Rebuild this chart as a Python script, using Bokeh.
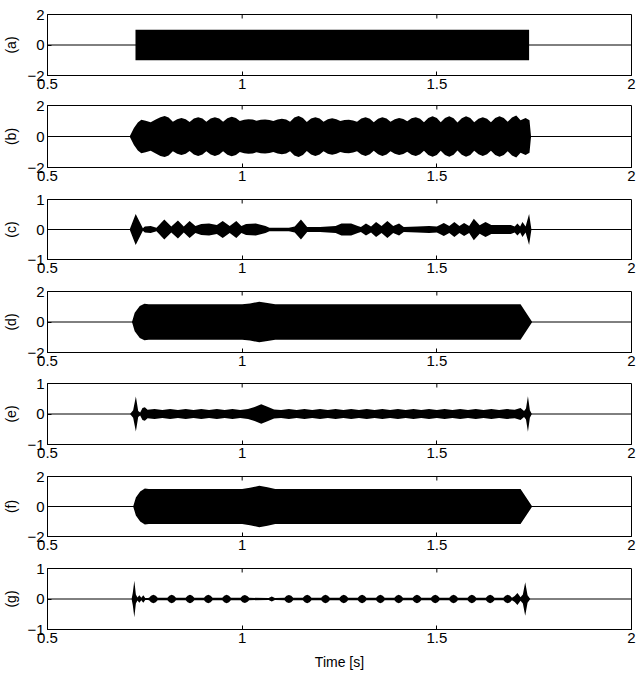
import numpy as np
from bokeh.plotting import figure
from bokeh.models import FixedTicker, CustomJSTickFormatter, Span, Range1d
from bokeh.layouts import column
from bokeh.embed import file_html
from bokeh.resources import INLINE

# ---------------- data (envelopes) ----------------
x_ticks = [0.5, 1.0, 1.5, 2.0]
panel_labels = ["(a)", "(b)", "(c)", "(d)", "(e)", "(f)", "(g)"]
y_limits = [2, 2, 1, 2, 1, 2, 1]
x_title = "Time [s]"

t_a = [0.5, 0.726, 0.726, 1.737, 1.737, 2.0]
env_a = [0, 0, 1.0, 1.0, 0, 0]

t_b = [0.5, 0.711, 0.722, 0.732, 0.741, 0.752, 0.765, 0.778, 0.790, 0.801, 0.811, 0.822,
       0.833, 0.844, 0.855, 0.865, 0.876, 0.887, 0.898, 0.908, 0.919, 0.930, 0.941, 0.951,
       0.962, 0.973, 0.984, 0.994, 1.005, 1.016, 1.027, 1.037, 1.048, 1.059, 1.070, 1.080,
       1.091, 1.102, 1.113, 1.123, 1.134, 1.145, 1.156, 1.166, 1.177, 1.188, 1.199, 1.209,
       1.220, 1.231, 1.242, 1.252, 1.263, 1.274, 1.285, 1.295, 1.306, 1.317, 1.328, 1.338,
       1.349, 1.360, 1.371, 1.381, 1.392, 1.403, 1.414, 1.424, 1.435, 1.446, 1.457, 1.467,
       1.478, 1.489, 1.500, 1.510, 1.521, 1.532, 1.543, 1.553, 1.564, 1.575, 1.586, 1.596,
       1.607, 1.618, 1.629, 1.639, 1.650, 1.661, 1.672, 1.682, 1.693, 1.704, 1.715,
       1.728, 1.738, 1.742, 2.0]
env_b = [0, 0, 0.55, 0.90, 1.08, 1.02, 0.92, 1.10, 1.25, 1.32, 1.22, 0.95,
         1.12, 1.20, 1.12, 0.94, 1.16, 1.25, 1.16, 0.95, 1.16, 1.25, 1.16, 0.95,
         1.18, 1.28, 1.20, 1.00, 1.08, 1.12, 1.09, 1.02, 1.08, 1.10, 1.07, 1.00,
         1.10, 1.15, 1.09, 0.95, 1.22, 1.32, 1.20, 0.93, 1.16, 1.25, 1.16, 0.95,
         1.12, 1.18, 1.12, 1.00, 1.06, 1.08, 1.04, 0.95, 1.16, 1.25, 1.15, 0.92,
         1.15, 1.25, 1.16, 0.95, 1.12, 1.20, 1.13, 0.98, 1.17, 1.25, 1.15, 0.92,
         1.19, 1.30, 1.19, 0.92, 1.19, 1.30, 1.18, 0.90, 1.18, 1.30, 1.19, 0.92,
         1.15, 1.25, 1.15, 0.92, 1.19, 1.30, 1.20, 0.95, 1.23, 1.35, 1.05,
         1.20, 1.05, 0, 0]

t_c = [0.5, 0.711, 0.7265, 0.745, 0.750, 0.765, 0.780, 0.800, 0.818, 0.835, 0.850, 0.865,
       0.880, 0.895, 0.915, 0.935, 0.950, 0.968, 0.985, 0.998, 1.010, 1.035, 1.060, 1.070,
       1.120, 1.135, 1.151, 1.167, 1.200, 1.240, 1.255, 1.280, 1.297, 1.305, 1.318, 1.331,
       1.344, 1.358, 1.373, 1.388, 1.403, 1.415, 1.450, 1.480, 1.500, 1.518, 1.532, 1.545,
       1.558, 1.570, 1.583, 1.595, 1.610, 1.625, 1.640, 1.690, 1.700, 1.707, 1.714, 1.720,
       1.728, 1.737, 1.743, 2.0]
env_c = [0, 0, 0.52, 0.04, 0.10, 0.12, 0.06, 0.33, 0.10, 0.30, 0.10, 0.28,
         0.12, 0.18, 0.20, 0.15, 0.28, 0.12, 0.28, 0.12, 0.18, 0.20, 0.12, 0.06,
         0.06, 0.10, 0.33, 0.08, 0.08, 0.12, 0.20, 0.20, 0.12, 0.08, 0.20, 0.10,
         0.25, 0.12, 0.28, 0.12, 0.20, 0.08, 0.10, 0.12, 0.10, 0.22, 0.12, 0.25,
         0.12, 0.22, 0.12, 0.36, 0.14, 0.25, 0.15, 0.15, 0.10, 0.20, 0.10, 0.25,
         0.10, 0.52, 0, 0]

t_d = [0.5, 0.717, 0.724, 0.737, 0.749, 0.760, 1.000, 1.020, 1.044, 1.065, 1.085, 1.715, 1.745, 2.0]
env_d = [0, 0, 0.60, 1.05, 1.20, 1.16, 1.16, 1.22, 1.33, 1.25, 1.16, 1.16, 0, 0]

t_e = [0.5, 0.712, 0.720, 0.727, 0.733, 0.738, 0.744, 0.750, 0.757, 0.775, 0.795, 0.815,
       0.835, 0.855, 0.875, 0.895, 0.915, 0.935, 0.955, 0.975, 0.995, 1.015, 1.030, 1.049,
       1.065, 1.082, 1.100, 1.120, 1.140, 1.160, 1.180, 1.200, 1.220, 1.240, 1.260, 1.280,
       1.300, 1.320, 1.340, 1.360, 1.380, 1.400, 1.420, 1.440, 1.460, 1.480, 1.500, 1.520,
       1.540, 1.560, 1.580, 1.600, 1.620, 1.640, 1.660, 1.680, 1.700, 1.715, 1.724, 1.729,
       1.734, 1.739, 1.744, 2.0]
env_e = [0, 0, 0.12, 0.57, 0.10, 0.05, 0.20, 0.22, 0.14, 0.16, 0.13, 0.16,
         0.13, 0.16, 0.13, 0.16, 0.13, 0.16, 0.13, 0.16, 0.13, 0.16, 0.22, 0.32,
         0.24, 0.15, 0.13, 0.16, 0.13, 0.16, 0.13, 0.16, 0.13, 0.16, 0.13, 0.16,
         0.13, 0.16, 0.13, 0.16, 0.13, 0.16, 0.13, 0.16, 0.13, 0.16, 0.13, 0.16,
         0.13, 0.16, 0.13, 0.16, 0.13, 0.16, 0.13, 0.16, 0.14, 0.20, 0.10, 0.18,
         0.58, 0.12, 0, 0]

t_f = [0.5, 0.720, 0.727, 0.738, 0.750, 0.760, 1.000, 1.020, 1.044, 1.065, 1.085, 1.715, 1.745, 2.0]
env_f = [0, 0, 0.60, 1.00, 1.20, 1.16, 1.16, 1.25, 1.38, 1.28, 1.16, 1.16, 0, 0]

t_g = [0.5, 0.716, 0.719, 0.723, 0.727, 0.731, 0.736, 0.741, 0.746, 0.751, 0.758,
       0.761, 0.766, 0.772, 0.778, 0.783,
       0.808, 0.813, 0.819, 0.825, 0.830,
       0.855, 0.860, 0.866, 0.872, 0.877,
       0.902, 0.907, 0.913, 0.919, 0.924,
       0.949, 0.954, 0.960, 0.966, 0.971,
       0.996, 1.001, 1.007, 1.013, 1.018,
       1.068, 1.076, 1.084,
       1.109, 1.114, 1.120, 1.126, 1.131,
       1.156, 1.161, 1.167, 1.173, 1.178,
       1.203, 1.208, 1.214, 1.220, 1.225,
       1.250, 1.255, 1.261, 1.267, 1.272,
       1.297, 1.302, 1.308, 1.314, 1.319,
       1.344, 1.349, 1.355, 1.361, 1.366,
       1.391, 1.396, 1.402, 1.408, 1.413,
       1.438, 1.443, 1.449, 1.455, 1.460,
       1.485, 1.490, 1.496, 1.502, 1.507,
       1.532, 1.537, 1.543, 1.549, 1.554,
       1.579, 1.584, 1.590, 1.596, 1.601,
       1.626, 1.631, 1.637, 1.643, 1.648,
       1.671, 1.676, 1.682, 1.688, 1.693,
       1.700, 1.707, 1.715, 1.721, 1.727, 1.733, 1.740, 2.0]
env_g = [0, 0, 0.20, 0.60, 0.15, 0.05, 0.12, 0.04, 0.12, 0.03, 0.03,
         0.04, 0.11, 0.14, 0.11, 0.04,
         0.04, 0.11, 0.14, 0.11, 0.04,
         0.04, 0.11, 0.14, 0.11, 0.04,
         0.04, 0.11, 0.14, 0.11, 0.04,
         0.04, 0.11, 0.14, 0.11, 0.04,
         0.04, 0.11, 0.13, 0.10, 0.04,
         0.03, 0.08, 0.03,
         0.04, 0.11, 0.13, 0.11, 0.04,
         0.04, 0.11, 0.14, 0.11, 0.04,
         0.04, 0.11, 0.14, 0.11, 0.04,
         0.04, 0.11, 0.14, 0.11, 0.04,
         0.04, 0.11, 0.14, 0.11, 0.04,
         0.04, 0.11, 0.14, 0.11, 0.04,
         0.04, 0.11, 0.14, 0.11, 0.04,
         0.04, 0.11, 0.14, 0.11, 0.04,
         0.04, 0.11, 0.14, 0.11, 0.04,
         0.04, 0.11, 0.14, 0.11, 0.04,
         0.04, 0.11, 0.14, 0.11, 0.04,
         0.04, 0.11, 0.14, 0.11, 0.04,
         0.04, 0.11, 0.14, 0.11, 0.04,
         0.10, 0.20, 0.06, 0.15, 0.55, 0.12, 0, 0]

times = [t_a, t_b, t_c, t_d, t_e, t_f, t_g]
envelopes = [env_a, env_b, env_c, env_d, env_e, env_f, env_g]

# ---------------- layout ----------------
FONT = "Liberation Sans"
heights = [97, 92, 92, 93, 92, 92, 117]
tops = [14, 8, 10, 10, 9, 10, 10]
bottoms = [22, 22, 22, 22, 22, 22, 46]

fmt_code = "return tick < 0 ? '\\u2212' + String(-tick) : String(tick);"

figs = []
for i in range(7):
    lim = y_limits[i]
    p = figure(width=639, height=heights[i], x_range=Range1d(0.5, 2.0),
               y_range=Range1d(-lim, lim), output_backend="svg", toolbar_location=None,
               min_border_left=46, min_border_right=8, min_border_top=tops[i],
               min_border_bottom=bottoms[i])
    p.outline_line_color = "black"
    p.outline_line_width = 1
    p.outline_line_alpha = 1
    p.xgrid.visible = False
    p.ygrid.visible = False
    p.background_fill_color = "white"
    p.border_fill_color = "white"

    t = np.array(times[i], dtype=float)
    e = np.array(envelopes[i], dtype=float)
    p.add_layout(Span(location=0, dimension="width", line_color="black", line_width=1))
    p.varea(x=t, y1=-e, y2=e, fill_color="black", fill_alpha=1)

    # inward ticks on the top edge of the box
    p.ray(x=x_ticks[1:3], y=[lim, lim], length=4, length_units="screen",
          angle=-np.pi / 2, line_color="black", line_width=1)

    yt = [-lim, 0, lim]
    p.xaxis[0].ticker = FixedTicker(ticks=x_ticks)
    p.yaxis[0].ticker = FixedTicker(ticks=yt)
    for ax in (p.xaxis[0], p.yaxis[0]):
        ax.formatter = CustomJSTickFormatter(code=fmt_code)
        ax.major_tick_in = 4
        ax.major_tick_out = 0
        ax.minor_tick_line_color = None
        ax.axis_line_color = "black"
        ax.major_tick_line_color = "black"
        ax.major_label_text_font = FONT
        ax.major_label_text_font_size = "15px"
        ax.major_label_text_color = "black"
        ax.major_label_standoff = 3
    p.yaxis[0].axis_label = panel_labels[i]
    p.yaxis[0].axis_label_text_font = FONT
    p.yaxis[0].axis_label_text_font_size = "14px"
    p.yaxis[0].axis_label_text_font_style = "normal"
    p.yaxis[0].axis_label_text_color = "black"
    p.yaxis[0].axis_label_standoff = 5
    if i == 6:
        p.xaxis[0].axis_label = x_title
        p.xaxis[0].axis_label_text_font = FONT
        p.xaxis[0].axis_label_text_font_size = "14px"
        p.xaxis[0].axis_label_text_font_style = "normal"
        p.xaxis[0].axis_label_text_color = "black"
        p.xaxis[0].axis_label_standoff = 8
    figs.append(p)

layout = column(*figs, spacing=0)
open("out.html", "w").write(file_html(layout, INLINE))
